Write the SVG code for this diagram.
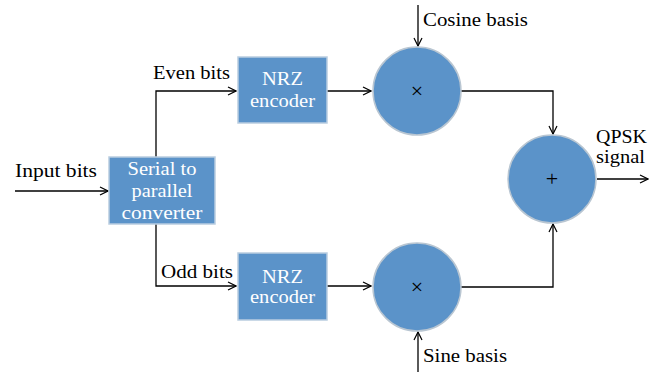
<svg xmlns="http://www.w3.org/2000/svg" width="664" height="372" viewBox="0 0 664 372">
<defs>
<marker id="arr" markerWidth="10" markerHeight="10" refX="9" refY="5" orient="auto" markerUnits="userSpaceOnUse">
<polyline points="1,1 9,5 1,9" fill="none" stroke="#000" stroke-width="1.2"/>
</marker>
</defs>
<style>
.box{fill:#5B93C9;stroke:#B9CDE0;stroke-width:1.5}
.circ{fill:#5B93C9;stroke:#B9C6D2;stroke-width:1.5}
.wt{font-family:"Liberation Serif",serif;font-size:19px;fill:#fff;text-anchor:middle}
.bt{font-family:"Liberation Serif",serif;font-size:19px;fill:#000}
.sym{font-family:"Liberation Serif",serif;font-size:22px;fill:#000;text-anchor:middle}
.ln{fill:none;stroke:#000;stroke-width:1.3}
</style>
<g id="connectors">
<line class="ln" x1="15" y1="191" x2="108" y2="191" marker-end="url(#arr)"/>
<polyline class="ln" points="156,157 156,91 236,91" marker-end="url(#arr)"/>
<polyline class="ln" points="156,224 156,286 236,286" marker-end="url(#arr)"/>
<line class="ln" x1="327" y1="91" x2="371" y2="91" marker-end="url(#arr)"/>
<line class="ln" x1="327" y1="286" x2="371" y2="286" marker-end="url(#arr)"/>
<line class="ln" x1="418" y1="5" x2="418" y2="46" marker-end="url(#arr)"/>
<line class="ln" x1="418" y1="372" x2="418" y2="332" marker-end="url(#arr)"/>
<polyline class="ln" points="461,91 553,91 553,134" marker-end="url(#arr)"/>
<polyline class="ln" points="461,287 553,287 553,224" marker-end="url(#arr)"/>
<line class="ln" x1="597" y1="179" x2="648" y2="179" marker-end="url(#arr)"/>
<text class="bt" x="15" y="177" textLength="82" lengthAdjust="spacingAndGlyphs">Input bits</text>
<text class="bt" x="153" y="79" textLength="77" lengthAdjust="spacingAndGlyphs">Even bits</text>
<text class="bt" x="161" y="278" textLength="72" lengthAdjust="spacingAndGlyphs">Odd bits</text>
<text class="bt" x="423" y="26" textLength="105" lengthAdjust="spacingAndGlyphs">Cosine basis</text>
<text class="bt" x="423" y="362" textLength="84" lengthAdjust="spacingAndGlyphs">Sine basis</text>
<text class="bt" x="596" y="143" textLength="51" lengthAdjust="spacingAndGlyphs">QPSK</text>
<text class="bt" x="596" y="163" textLength="49" lengthAdjust="spacingAndGlyphs">signal</text>
</g>
<g id="serial">
<rect class="box" x="109" y="157" width="106" height="67"/>
<text class="wt" x="162" y="175" textLength="69" lengthAdjust="spacingAndGlyphs">Serial to</text>
<text class="wt" x="162" y="197" textLength="61" lengthAdjust="spacingAndGlyphs">parallel</text>
<text class="wt" x="162" y="219" textLength="81" lengthAdjust="spacingAndGlyphs">converter</text>
</g>
<g id="nrz1">
<rect class="box" x="238" y="57" width="89" height="66"/>
<text class="wt" x="282.5" y="85" textLength="41" lengthAdjust="spacingAndGlyphs">NRZ</text>
<text class="wt" x="282.5" y="107" textLength="65" lengthAdjust="spacingAndGlyphs">encoder</text>
</g>
<g id="nrz2">
<rect class="box" x="238" y="253" width="89" height="67"/>
<text class="wt" x="282.5" y="283" textLength="41" lengthAdjust="spacingAndGlyphs">NRZ</text>
<text class="wt" x="282.5" y="303" textLength="65" lengthAdjust="spacingAndGlyphs">encoder</text>
</g>
<g id="mult1">
<circle class="circ" cx="417" cy="91" r="44"/>
<text class="sym" x="417" y="98">×</text>
</g>
<g id="mult2">
<circle class="circ" cx="417" cy="287" r="44"/>
<text class="sym" x="417" y="294">×</text>
</g>
<g id="sum">
<circle class="circ" cx="552" cy="179" r="44"/>
<text class="sym" x="552" y="186">+</text>
</g>
</svg>
